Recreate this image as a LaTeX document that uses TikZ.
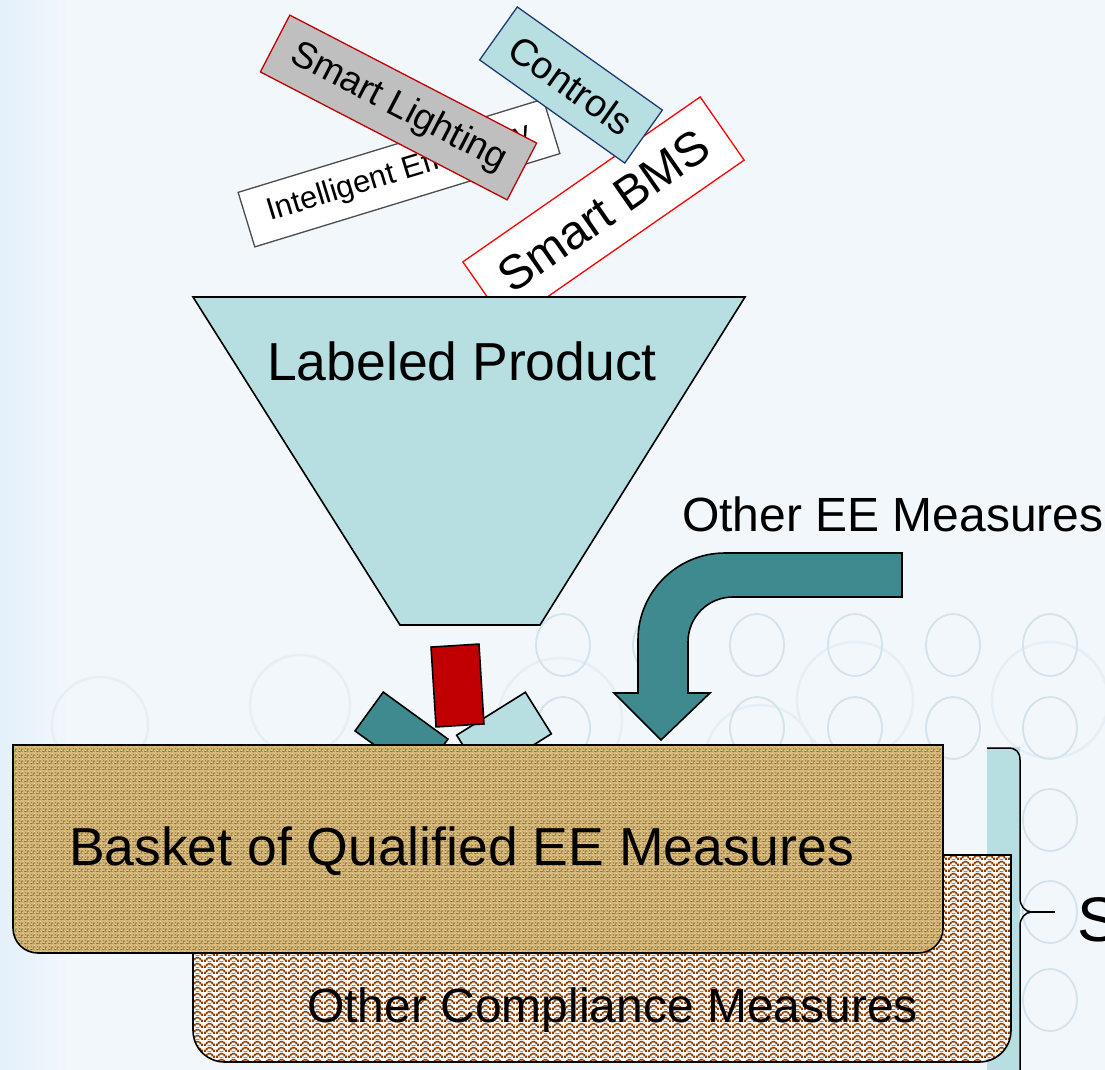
\documentclass[tikz,border=0pt]{standalone}
\usepackage{fontspec}
\setmainfont{Liberation Sans}
\usetikzlibrary{patterns}
\pgfdeclarepatternformonly{chevrons}{\pgfpointorigin}{\pgfpoint{12pt}{6pt}}{\pgfpoint{12pt}{6pt}}{%
  \pgfpathrectangle{\pgfpoint{0pt}{0pt}}{\pgfpoint{2pt}{2.8pt}}%
  \pgfpathrectangle{\pgfpoint{2pt}{2pt}}{\pgfpoint{2pt}{2.8pt}}%
  \pgfpathrectangle{\pgfpoint{4pt}{4pt}}{\pgfpoint{2pt}{2pt}}%
  \pgfpathrectangle{\pgfpoint{4pt}{0pt}}{\pgfpoint{2pt}{0.8pt}}%
  \pgfpathrectangle{\pgfpoint{6pt}{4pt}}{\pgfpoint{2pt}{2pt}}%
  \pgfpathrectangle{\pgfpoint{6pt}{0pt}}{\pgfpoint{2pt}{0.8pt}}%
  \pgfpathrectangle{\pgfpoint{8pt}{2pt}}{\pgfpoint{2pt}{2.8pt}}%
  \pgfpathrectangle{\pgfpoint{10pt}{0pt}}{\pgfpoint{2pt}{2.8pt}}%
  \pgfusepath{fill}}
\pgfdeclarepatternformonly{weavepat}{\pgfpointorigin}{\pgfpoint{6pt}{6pt}}{\pgfpoint{6pt}{6pt}}{%
  \pgfpathrectangle{\pgfpoint{0pt}{0pt}}{\pgfpoint{3pt}{1pt}}%
  \pgfpathrectangle{\pgfpoint{3pt}{3pt}}{\pgfpoint{3pt}{1pt}}%
  \pgfpathrectangle{\pgfpoint{4pt}{0pt}}{\pgfpoint{1pt}{3pt}}%
  \pgfpathrectangle{\pgfpoint{1pt}{3pt}}{\pgfpoint{1pt}{3pt}}%
  \pgfusepath{fill}}
\definecolor{bgc}{HTML}{F2F7FB}
\definecolor{bandc}{HTML}{E4F0FA}
\definecolor{lteal}{HTML}{B7DFE2}
\definecolor{dteal}{HTML}{3E8A8F}
\definecolor{dred}{HTML}{C00000}
\definecolor{mynavy}{HTML}{1F3A73}
\definecolor{circc}{HTML}{D2E3ED}
\definecolor{bigcirc}{HTML}{E6EFF5}
\definecolor{burlap}{HTML}{D4B574}
\definecolor{weave}{HTML}{6A4A1A}
\definecolor{cream}{HTML}{F8E8BC}
\definecolor{chk}{HTML}{8E4000}
\begin{document}
\begin{tikzpicture}[x=1pt,y=-1pt,
  lbl/.style={draw, line width=1.3pt, inner sep=0pt, outer sep=0pt, text=black},
  blk/.style={draw=black, line width=1.6pt, inner sep=0pt, outer sep=0pt},
  circ/.style={draw=circc, line width=1.8pt},
  bcirc/.style={draw=bigcirc, line width=2.5pt},
  txt/.style={inner sep=0pt, outer sep=0pt, text=black}]
\path[use as bounding box] (0,0) rectangle (1105,1070);
\fill[bgc] (0,0) rectangle (1105,1070);
\shade[left color=bandc, right color=bgc] (0,0) rectangle (70,1070);
% background circles
\foreach \cx/\cy/\r in {560/720/62, 855/700/58, 1050/700/58, 100/725/48, 300/705/50, 760/760/55}
  \draw[bcirc] (\cx,\cy) circle [radius=\r];
\foreach \cx/\cy in {563/645, 660/645, 757/645, 855/645, 953/645, 1050/645,
                     563/728, 757/728, 855/728, 953/728, 1050/728,
                     1050/820, 1050/912, 1050/1000}
  \draw[circ] (\cx,\cy) ellipse [x radius=27, y radius=31];
% floating labels
\node[lbl, draw=gray!60!black, fill=white, minimum width=319pt, minimum height=57pt,
      rotate=17, font=\fontsize{31}{36}\selectfont] (ie) at (399,173) {Intelligent Efficiency};
\node[lbl, draw=dred, fill=gray!50, minimum width=278pt, minimum height=64pt,
      rotate=-27.4, font=\fontsize{37}{42}\selectfont] (sl) at (398.5,107.5) {Smart Lighting};
\node[lbl, draw=red, fill=white, minimum width=289pt, minimum height=77pt,
      rotate=34.8, font=\fontsize{48}{54}\selectfont] (bms) at (603.5,211) {Smart BMS};
\node[lbl, draw=mynavy, fill=lteal, minimum width=178pt, minimum height=65pt,
      rotate=-35.4, font=\fontsize{38}{43}\selectfont] (ctl) at (571,85) {Controls};
% funnel
\draw[fill=lteal, line width=1.6pt] (193,297) -- (745,297) -- (540,625) -- (400,625) -- cycle;
\node[txt, anchor=base, font=\fontsize{53.5}{60}\selectfont] (lp) at (462,380) {Labeled Product};
% falling blocks
\node[blk, fill=dteal, minimum width=80pt, minimum height=48pt, rotate=-36] (b1) at (401.5,735) {};
\node[blk, fill=lteal, minimum width=81pt, minimum height=49pt, rotate=32] (b2) at (504,734.5) {};
\node[blk, fill=dred, minimum width=48pt, minimum height=80pt, rotate=3.6] (b3) at (457.5,685.5) {};
% bent arrow
\draw[fill=dteal, line width=1.6pt] (902,553) -- (725,553)
  .. controls (677,553) and (638,592) .. (638,640) -- (638,693) -- (614,693) -- (661,740)
  -- (710,693) -- (688,693) -- (688,642) .. controls (688,617) and (708,597) .. (733,597)
  -- (902,597) -- cycle;
\node[txt, anchor=base west, font=\fontsize{48}{54}\selectfont] (oee) at (682,531) {Other EE Measures};
% teal strip
\fill[lteal] (987,747) rectangle (1020,1070);
% other compliance measures
\fill[white] (193,855) -- (1011,855) -- (1011,1030) .. controls (1011,1048) and (997,1062) .. (979,1062)
  -- (225,1062) .. controls (207,1062) and (193,1048) .. (193,1030) -- cycle;
\fill[pattern=chevrons, pattern color=chk] (193,855) -- (1011,855) -- (1011,1030) .. controls (1011,1048) and (997,1062) .. (979,1062)
  -- (225,1062) .. controls (207,1062) and (193,1048) .. (193,1030) -- cycle;
\draw[line width=1.6pt] (193,855) -- (1011,855) -- (1011,1030) .. controls (1011,1048) and (997,1062) .. (979,1062)
  -- (225,1062) .. controls (207,1062) and (193,1048) .. (193,1030) -- cycle;
\node[txt, anchor=base west, font=\fontsize{48}{54}\selectfont] (ocm) at (307,1022) {Other Compliance Measures};
% basket
\fill[burlap] (13,745) -- (943,745) -- (943,928) .. controls (943,942) and (932,953) .. (918,953)
  -- (38,953) .. controls (24,953) and (13,942) .. (13,928) -- cycle;
\fill[pattern=weavepat, pattern color=weave, opacity=0.7] (13,745) -- (943,745) -- (943,928) .. controls (943,942) and (932,953) .. (918,953)
  -- (38,953) .. controls (24,953) and (13,942) .. (13,928) -- cycle;
\fill[pattern=crosshatch dots, pattern color=cream, opacity=0.7] (13,745) -- (943,745) -- (943,928) .. controls (943,942) and (932,953) .. (918,953)
  -- (38,953) .. controls (24,953) and (13,942) .. (13,928) -- cycle;
\draw[line width=1.6pt] (13,745) -- (943,745) -- (943,928) .. controls (943,942) and (932,953) .. (918,953)
  -- (38,953) .. controls (24,953) and (13,942) .. (13,928) -- cycle;
\node[txt, anchor=base west, font=\fontsize{53.5}{60}\selectfont] (bq) at (69,865) {Basket of Qualified EE Measures};
% brace
\coordinate (btip) at (1032,912);
\coordinate (bend) at (1055,912);
\draw[line width=1.5pt] (987,748) -- (1008,748) .. controls (1016,748) and (1020,752) .. (1020,760)
  -- (1020,898) .. controls (1020,906) and (1025,912) .. (btip)
  .. controls (1025,912) and (1020,918) .. (1020,926) -- (1020,1075);
\draw[line width=1.5pt] (btip) -- (bend);
\node[txt, anchor=base west, font=\fontsize{63}{70}\selectfont] (sv) at (1077,941) {S};
\end{tikzpicture}
\end{document}
